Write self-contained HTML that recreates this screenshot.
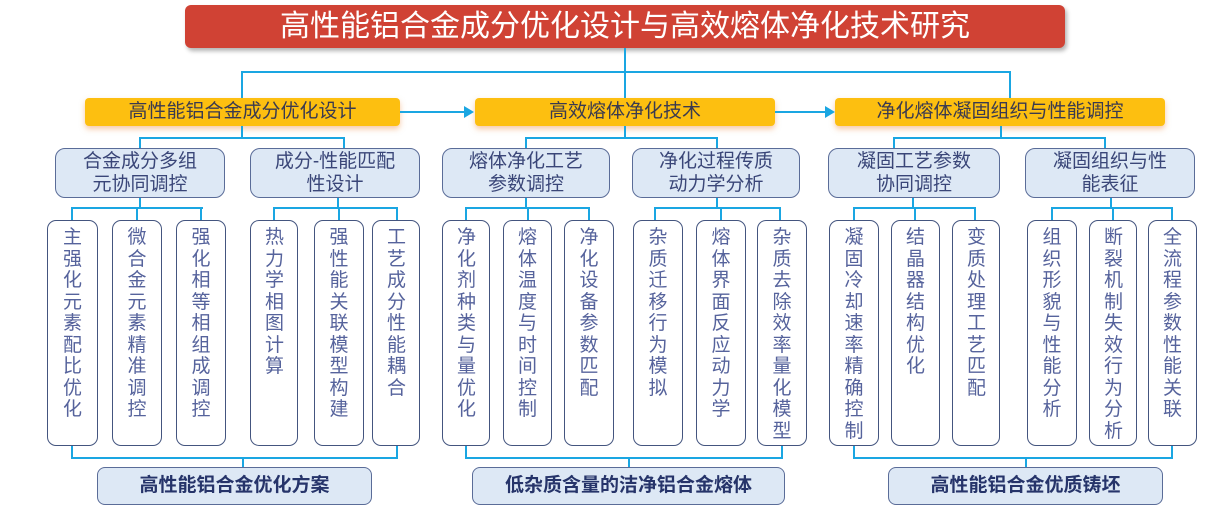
<!DOCTYPE html>
<html><head><meta charset="utf-8"><style>
body{margin:0;width:1212px;height:512px;background:#fff;position:relative;overflow:hidden;font-family:"Liberation Sans","Noto Sans CJK SC",sans-serif}
.a{position:absolute;box-sizing:border-box}
.title{left:185px;top:5px;width:880px;height:43px;background:#d04234;border-radius:6px;color:#fff;font-size:30px;text-align:center;line-height:43px;box-shadow:2px 3px 4px rgba(0,0,0,.3)}
.y{top:98px;height:28px;background:#fdbf10;border-radius:4px;color:#3a3a50;font-size:19px;text-align:center;line-height:28px;box-shadow:0 3px 6px rgba(240,150,80,.5)}
.s{top:148px;height:50px;background:#dde8f5;border:1.5px solid #5a6c98;border-radius:10px;color:#3a4678;font-size:19px;text-align:center;line-height:23px;padding-top:1px}
.l{top:220px;height:226px;background:#fff;border:1.5px solid #44557f;border-radius:9px;color:#56639c;font-size:19px;line-height:21.5px;text-align:center;padding:6px 14px 0;word-break:break-all}
.b{top:467px;height:38px;background:#dde8f5;border:1.5px solid #5a6c98;border-radius:8px;color:#26346a;font-size:19px;font-weight:bold;text-align:center;line-height:36px}
.h{position:absolute;height:2px;background:#1aa6e2}
.v{position:absolute;width:2px;background:#1aa6e2}
</style></head><body>
<div class="a title">高性能铝合金成分优化设计与高效熔体净化技术研究</div>
<div class="v" style="left:624px;top:48px;height:50px"></div>
<div class="h" style="left:241px;top:71px;width:770px"></div>
<div class="v" style="left:241px;top:71px;height:27px"></div>
<div class="v" style="left:1009px;top:71px;height:27px"></div>
<div class="a y" style="left:85px;width:315px">高性能铝合金成分优化设计</div>
<div class="a y" style="left:475px;width:300px">高效熔体净化技术</div>
<div class="a y" style="left:835px;width:330px">净化熔体凝固组织与性能调控</div>
<div class="h" style="left:400px;top:111px;width:66px"></div>
<div style="position:absolute;left:464px;top:106px;border-left:10px solid #1aa6e2;border-top:6px solid transparent;border-bottom:6px solid transparent"></div>
<div class="h" style="left:775px;top:111px;width:52px"></div>
<div style="position:absolute;left:825px;top:106px;border-left:10px solid #1aa6e2;border-top:6px solid transparent;border-bottom:6px solid transparent"></div>
<div class="v" style="left:241px;top:126px;height:12px"></div>
<div class="h" style="left:139px;top:137px;width:206px"></div>
<div class="v" style="left:139px;top:137px;height:11px"></div>
<div class="v" style="left:343px;top:137px;height:11px"></div>
<div class="v" style="left:624px;top:126px;height:12px"></div>
<div class="h" style="left:525px;top:137px;width:193px"></div>
<div class="v" style="left:525px;top:137px;height:11px"></div>
<div class="v" style="left:716px;top:137px;height:11px"></div>
<div class="v" style="left:1000px;top:126px;height:12px"></div>
<div class="h" style="left:893px;top:137px;width:213px"></div>
<div class="v" style="left:893px;top:137px;height:11px"></div>
<div class="v" style="left:1104px;top:137px;height:11px"></div>
<div class="a s" style="left:55px;width:170px">合金成分多组<br>元协同调控</div>
<div class="a s" style="left:250px;width:170px">成分-性能匹配<br>性设计</div>
<div class="a s" style="left:442px;width:168px">熔体净化工艺<br>参数调控</div>
<div class="a s" style="left:632px;width:168px">净化过程传质<br>动力学分析</div>
<div class="a s" style="left:828px;width:172px">凝固工艺参数<br>协同调控</div>
<div class="a s" style="left:1025px;width:170px">凝固组织与性<br>能表征</div>
<div class="v" style="left:139px;top:198px;height:10px"></div><div class="h" style="left:71px;top:207px;width:132px"></div>
<div class="v" style="left:71px;top:207px;height:13px"></div><div class="v" style="left:136px;top:207px;height:13px"></div><div class="v" style="left:200px;top:207px;height:13px"></div>
<div class="v" style="left:337px;top:198px;height:10px"></div><div class="h" style="left:273px;top:207px;width:125px"></div>
<div class="v" style="left:273px;top:207px;height:13px"></div><div class="v" style="left:338px;top:207px;height:13px"></div><div class="v" style="left:396px;top:207px;height:13px"></div>
<div class="v" style="left:525px;top:198px;height:10px"></div><div class="h" style="left:465px;top:207px;width:125px"></div>
<div class="v" style="left:465px;top:207px;height:13px"></div><div class="v" style="left:527px;top:207px;height:13px"></div><div class="v" style="left:588px;top:207px;height:13px"></div>
<div class="v" style="left:716px;top:198px;height:10px"></div><div class="h" style="left:654px;top:207px;width:127px"></div>
<div class="v" style="left:654px;top:207px;height:13px"></div><div class="v" style="left:720px;top:207px;height:13px"></div><div class="v" style="left:779px;top:207px;height:13px"></div>
<div class="v" style="left:912px;top:198px;height:10px"></div><div class="h" style="left:853px;top:207px;width:123px"></div>
<div class="v" style="left:853px;top:207px;height:13px"></div><div class="v" style="left:914px;top:207px;height:13px"></div><div class="v" style="left:974px;top:207px;height:13px"></div>
<div class="v" style="left:1110px;top:198px;height:10px"></div><div class="h" style="left:1051px;top:207px;width:122px"></div>
<div class="v" style="left:1051px;top:207px;height:13px"></div><div class="v" style="left:1112px;top:207px;height:13px"></div><div class="v" style="left:1171px;top:207px;height:13px"></div>
<div class="a l" style="left:47px;width:51px">主强化元素配比优化</div>
<div class="a l" style="left:112px;width:50px">微合金元素精准调控</div>
<div class="a l" style="left:176px;width:50px">强化相等相组成调控</div>
<div class="a l" style="left:250px;width:48px">热力学相图计算</div>
<div class="a l" style="left:314px;width:50px">强性能关联模型构建</div>
<div class="a l" style="left:372px;width:48px">工艺成分性能耦合</div>
<div class="a l" style="left:442px;width:48px">净化剂种类与量优化</div>
<div class="a l" style="left:503px;width:49px">熔体温度与时间控制</div>
<div class="a l" style="left:564px;width:50px">净化设备参数匹配</div>
<div class="a l" style="left:633px;width:50px">杂质迁移行为模拟</div>
<div class="a l" style="left:696px;width:50px">熔体界面反应动力学</div>
<div class="a l" style="left:757px;width:50px">杂质去除效率量化模型</div>
<div class="a l" style="left:829px;width:50px">凝固冷却速率精确控制</div>
<div class="a l" style="left:891px;width:49px">结晶器结构优化</div>
<div class="a l" style="left:952px;width:48px">变质处理工艺匹配</div>
<div class="a l" style="left:1027px;width:50px">组织形貌与性能分析</div>
<div class="a l" style="left:1089px;width:48px">断裂机制失效行为分析</div>
<div class="a l" style="left:1148px;width:49px">全流程参数性能关联</div>
<div class="v" style="left:71px;top:446px;height:13px"></div><div class="v" style="left:396px;top:446px;height:13px"></div>
<div class="h" style="left:71px;top:457px;width:327px"></div><div class="v" style="left:242px;top:457px;height:10px"></div>
<div class="v" style="left:465px;top:446px;height:13px"></div><div class="v" style="left:781px;top:446px;height:13px"></div>
<div class="h" style="left:465px;top:457px;width:318px"></div><div class="v" style="left:628px;top:457px;height:10px"></div>
<div class="v" style="left:853px;top:446px;height:13px"></div><div class="v" style="left:1171px;top:446px;height:13px"></div>
<div class="h" style="left:853px;top:457px;width:320px"></div><div class="v" style="left:1025px;top:457px;height:10px"></div>
<div class="a b" style="left:97px;width:275px">高性能铝合金优化方案</div>
<div class="a b" style="left:472px;width:313px">低杂质含量的洁净铝合金熔体</div>
<div class="a b" style="left:888px;width:275px">高性能铝合金优质铸坯</div>
</body></html>
